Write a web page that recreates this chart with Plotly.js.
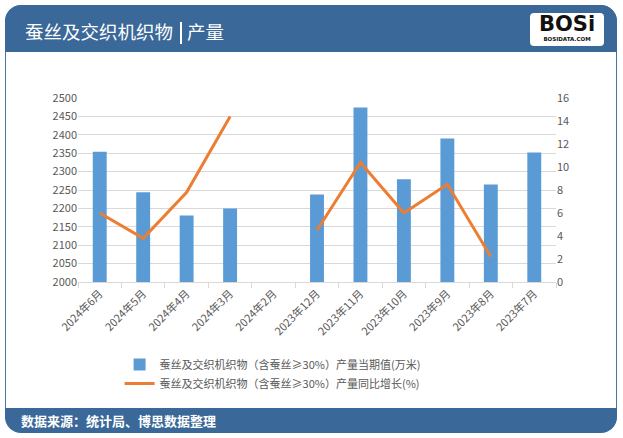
<!DOCTYPE html>
<html><head><meta charset="utf-8">
<script src="https://cdn.plot.ly/plotly-3.0.1.min.js"></script>
<style>
html,body{margin:0;padding:0;background:#fff;width:623px;height:438px;overflow:hidden;font-family:"Noto Sans CJK SC","Noto Sans",sans-serif;}
#frame{position:absolute;left:5px;top:5px;width:612px;height:427px;border:1px solid #4a74a0;border-radius:16px;box-sizing:border-box;}
#head{position:absolute;left:5px;top:5px;width:612px;height:47px;background:#3a6898;border-radius:16px 16px 0 0;}
#head .t{position:absolute;left:20px;top:14px;color:#fff;font-size:18.5px;line-height:24px;white-space:nowrap;}
#head .t .bar{display:inline-block;width:2px;height:22px;background:#fff;vertical-align:-5px;margin:0 5px 0 7px;}
#logo{position:absolute;left:525px;top:8px;width:74px;height:33px;background:#fff;border-radius:4px;text-align:center;}
#logo .b{font-family:"DejaVu Sans";font-weight:bold;font-size:21px;line-height:22px;color:#111;letter-spacing:0px;}
#logo .s{font-family:"DejaVu Sans";font-size:5.5px;line-height:8px;color:#111;font-weight:bold;}
#foot{position:absolute;left:5px;top:408px;width:612px;height:25px;background:#3a6898;border-radius:0 0 16px 16px;}
#foot .t{position:absolute;left:16px;top:3px;color:#fff;font-size:13px;font-weight:bold;line-height:19px;}
#chart{position:absolute;left:0;top:0;width:623px;height:438px;}
</style></head>
<body>
<div id="frame"></div>
<div id="head"><div class="t">蚕丝及交织机织物<span class="bar"></span>产量</div>
<div id="logo"><div class="b">BOSi</div><div class="s">BOSIDATA.COM</div></div></div>
<div id="foot"><div class="t">数据来源：统计局、博思数据整理</div></div>
<div id="chart"></div>
<script>
const categories = ["2024年6月","2024年5月","2024年4月","2024年3月","2024年2月","2023年12月","2023年11月","2023年10月","2023年9月","2023年8月","2023年7月"];
const outputValues = [2354, 2244, 2181, 2200, null, 2238, 2474, 2279, 2390, 2265, 2352];
const yoyGrowth = [6.0, 3.8, 7.8, 14.4, null, 4.5, 10.4, 6.0, 8.5, 2.2, null];
const barName = "蚕丝及交织机织物（含蚕丝≥30%）产量当期值(万米)";
const lineName = "蚕丝及交织机织物（含蚕丝≥30%）产量同比增长(%)";

const font = {family:'"Noto Sans CJK SC","Noto Sans",sans-serif', color:'#595959', size:11};
const data = [
  {type:'bar', x:categories, y:outputValues, name:barName, marker:{color:'#5b9bd5'}, yaxis:'y'},
  {type:'scatter', mode:'lines', x:categories, y:yoyGrowth, name:lineName, line:{color:'#ed7d31', width:3}, connectgaps:false, yaxis:'y2'}
];
const layout = {
  width:623, height:438,
  margin:{l:78, r:67, t:98, b:156, pad:0},
  paper_bgcolor:'rgba(0,0,0,0)', plot_bgcolor:'rgba(0,0,0,0)',
  font:font, bargap:0.68, showlegend:true,
  xaxis:{type:'category', tickangle:-45, tickfont:{size:11, color:'#595959'}, showline:true, linecolor:'#d9d9d9', ticks:'outside', tickson:'boundaries', ticklen:5, tickcolor:'#d9d9d9', showgrid:false, fixedrange:true},
  yaxis:{range:[2000,2500], dtick:50, tick0:2000, showgrid:true, gridcolor:'#d9d9d9', zeroline:false, tickfont:{size:11, color:'#595959'}, ticks:'', showline:false},
  yaxis2:{range:[0,16], dtick:2, overlaying:'y', side:'right', showgrid:false, zeroline:false, tickfont:{size:11, color:'#595959'}, ticks:'', showline:false},
  legend:{x:0.087, xanchor:'left', y:-0.37, yanchor:'top', orientation:'v', font:{size:11, color:'#595959'}, bgcolor:'rgba(0,0,0,0)', tracegroupgap:4}
};
Plotly.newPlot('chart', data, layout, {displayModeBar:false, staticPlot:true});
</script>
</body></html>
